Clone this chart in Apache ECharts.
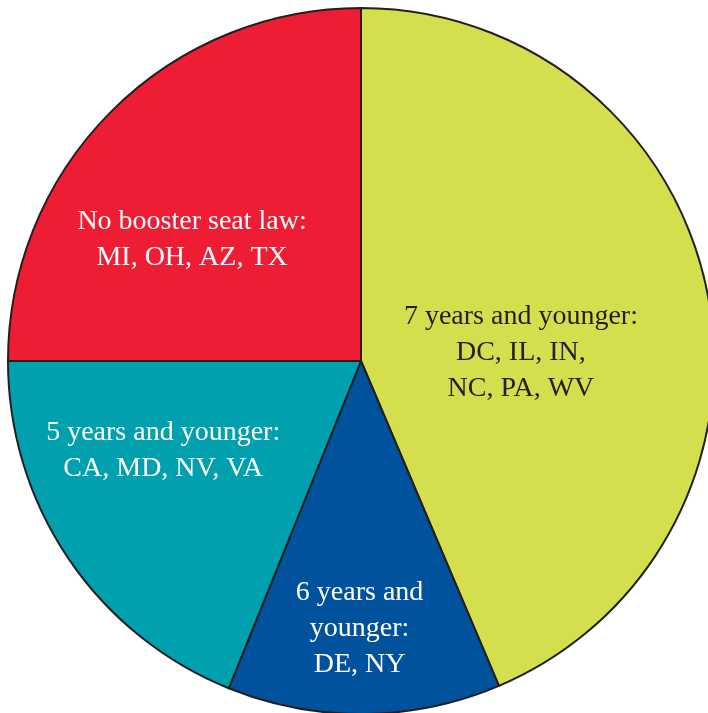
<!DOCTYPE html>
<html>
<head>
<meta charset="utf-8">
<script src="https://cdn.jsdelivr.net/npm/echarts@6/dist/echarts.min.js"></script>
<style>
    html, body { margin: 0; padding: 0; background: #fff; }
    #chart { width: 708px; height: 713px; }
</style>
</head>
<body>
<div id="chart"></div>
<script>
// slice labels (age rule + states) and share of the pie (degrees)
var labels = [
    '7 years and younger:\nDC, IL, IN,\nNC, PA, WV',
    '6 years and\nyounger:\nDE, NY',
    '5 years and younger:\nCA, MD, NV, VA',
    'No booster seat law:\nMI, OH, AZ, TX'
]
var values = [157, 45, 68, 90]
var colors = ['#d5df4e', '#00529c', '#00a0ae', '#ee1d33']
var textColors = ['#231f20', '#ffffff', '#ffffff', '#ffffff']
// nudge each label from the default inside spot
var offsets = [[-16, 27], [-3, 88], [-49, -11], [-42, 6]]

var data = []
for (var i = 0; i < labels.length; i++) {
    data.push({
        name: labels[i],
        value: values[i],
        itemStyle: {color: colors[i]},
        label: {color: textColors[i], offset: offsets[i]}
    })
}

var myChart = echarts.init(document.getElementById('chart'))
myChart.setOption({
    animation: false,
    series: [
        {
            type: 'pie',
            center: [361, 361],
            radius: 353,
            startAngle: 90,
            clockwise: true,
            itemStyle: {borderColor: '#231f20', borderWidth: 2},
            label: {
                position: 'inside',
                formatter: '{b}',
                fontFamily: 'Liberation Serif',
                fontSize: 28,
                lineHeight: 36,
                align: 'center'
            },
            labelLine: {show: false},
            emphasis: {disabled: true},
            data: data
        }
    ]
})
</script>
</body>
</html>
